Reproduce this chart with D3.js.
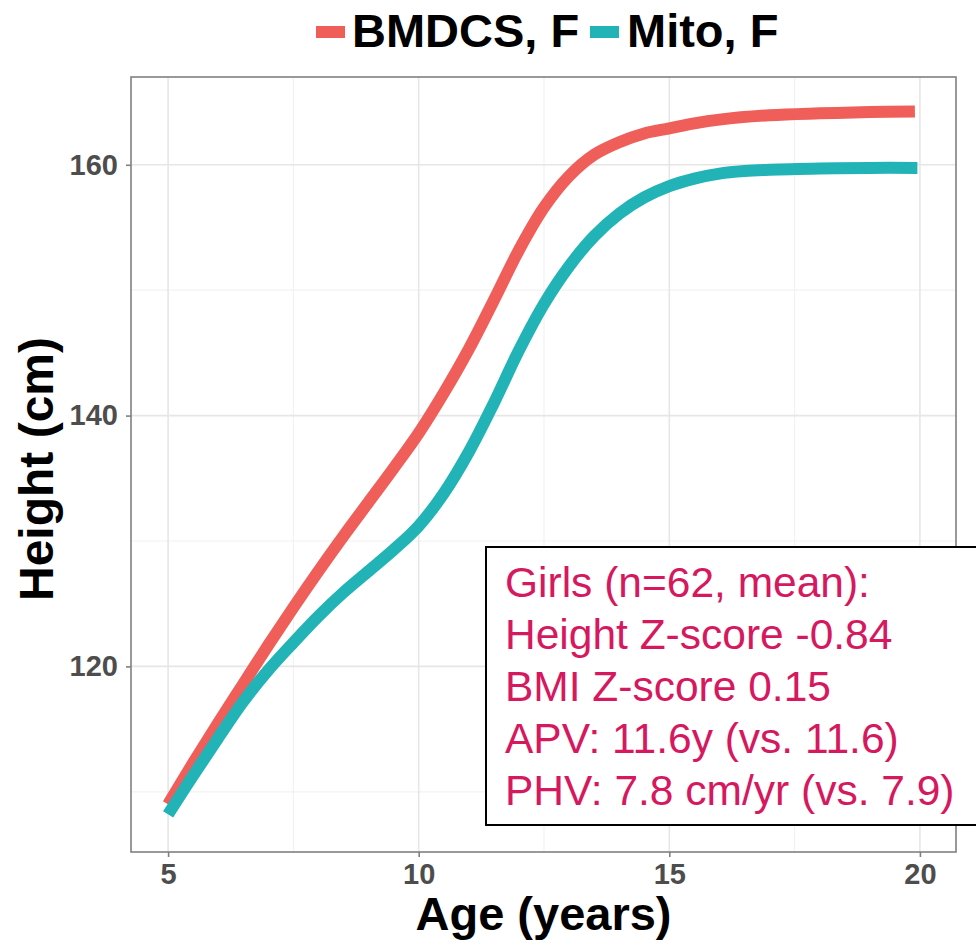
<!DOCTYPE html>
<html>
<head>
<meta charset="utf-8">
<script src="https://cdn.jsdelivr.net/npm/d3@7"></script>
<style>
    body { margin: 0; background: #fff; }
    #chart { width: 976px; height: 942px; }
    text { font-family: "Liberation Sans", Arial, sans-serif; }
</style>
</head>
<body>
<div id="chart"></div>
<script>
// ages (years) and heights (cm)
var bmdcsAge = [5, 5.5, 6, 6.5, 7, 7.5, 8, 8.5, 9, 9.5, 10, 10.5, 11, 11.5, 12, 12.5, 13, 13.5, 14, 14.5, 15, 15.5, 16, 17, 18, 19, 19.9];
var bmdcsHeight = [109.0, 112.3, 115.5, 118.6, 121.7, 124.7, 127.6, 130.4, 133.1, 135.8, 138.6, 141.8, 145.3, 149.2, 153.2, 156.6, 159.1, 160.8, 161.8, 162.5, 162.9, 163.3, 163.6, 163.95, 164.1, 164.2, 164.25];

var mitoAge = [5, 5.5, 6, 6.5, 7, 7.5, 8, 8.5, 9, 9.5, 10, 10.5, 11, 11.5, 12, 12.5, 13, 13.5, 14, 14.5, 15, 15.5, 16, 16.5, 17, 18, 19, 19.95];
var mitoHeight = [108.2, 111.3, 114.3, 117.2, 119.7, 121.9, 124.0, 125.9, 127.6, 129.3, 131.2, 133.8, 137.1, 141.0, 145.2, 148.9, 151.9, 154.3, 156.1, 157.4, 158.3, 158.9, 159.3, 159.5, 159.6, 159.7, 159.75, 159.75];

var seriesNames = ["BMDCS, F", "Mito, F"];
var seriesColors = ["#EF5E59", "#22B3B7"];

var xTicks = [5, 10, 15, 20];
var xMinor = [7.5, 12.5, 17.5];
var yTicks = [120, 140, 160];
var yMinor = [110, 130, 150];

var noteLines = [
    "Girls (n=62, mean):",
    "Height Z-score -0.84",
    "BMI Z-score 0.15",
    "APV: 11.6y (vs. 11.6)",
    "PHV: 7.8 cm/yr (vs. 7.9)"
];

var width = 976, height = 942;
var panel = { left: 131, top: 77, right: 956, bottom: 852 };

var svg = d3.select("#chart")
    .append("svg")
    .attr("width", width)
    .attr("height", height);

var x = d3.scaleLinear()
    .domain([4.26, 20.72])
    .range([panel.left, panel.right]);

var y = d3.scaleLinear()
    .domain([105.2, 167.0])
    .range([panel.bottom, panel.top]);

// grid
var grid = svg.append("g").attr("class", "grid");
grid.selectAll(".xminor").data(xMinor).enter().append("line")
    .attr("x1", function (d) { return x(d); }).attr("x2", function (d) { return x(d); })
    .attr("y1", panel.top).attr("y2", panel.bottom)
    .style("stroke", "#F2F2F2").style("stroke-width", 1.2);
grid.selectAll(".yminor").data(yMinor).enter().append("line")
    .attr("y1", function (d) { return y(d); }).attr("y2", function (d) { return y(d); })
    .attr("x1", panel.left).attr("x2", panel.right)
    .style("stroke", "#F2F2F2").style("stroke-width", 1.2);
grid.selectAll(".xmajor").data(xTicks).enter().append("line")
    .attr("x1", function (d) { return x(d); }).attr("x2", function (d) { return x(d); })
    .attr("y1", panel.top).attr("y2", panel.bottom)
    .style("stroke", "#E6E6E6").style("stroke-width", 1.6);
grid.selectAll(".ymajor").data(yTicks).enter().append("line")
    .attr("y1", function (d) { return y(d); }).attr("y2", function (d) { return y(d); })
    .attr("x1", panel.left).attr("x2", panel.right)
    .style("stroke", "#E6E6E6").style("stroke-width", 1.6);

// lines
var line = d3.line()
    .x(function (d) { return x(d[0]); })
    .y(function (d) { return y(d[1]); })
    .curve(d3.curveCatmullRom.alpha(0.5));

var series = [
    d3.zip(bmdcsAge, bmdcsHeight),
    d3.zip(mitoAge, mitoHeight)
];

svg.append("g")
    .selectAll("path")
    .data(series)
    .enter().append("path")
    .attr("d", line)
    .style("fill", "none")
    .style("stroke", function (d, i) { return seriesColors[i]; })
    .style("stroke-width", 12)
    .style("stroke-linecap", "butt")
    .style("stroke-linejoin", "round");

// panel border
svg.append("rect")
    .attr("x", panel.left).attr("y", panel.top)
    .attr("width", panel.right - panel.left).attr("height", panel.bottom - panel.top)
    .style("fill", "none").style("stroke", "#808080").style("stroke-width", 1.6);

// axes
var xAxis = svg.append("g")
    .attr("transform", "translate(0," + panel.bottom + ")")
    .call(d3.axisBottom(x).tickValues(xTicks).tickSize(5).tickPadding(6).tickFormat(d3.format("d")));
var yAxis = svg.append("g")
    .attr("transform", "translate(" + panel.left + ",0)")
    .call(d3.axisLeft(y).tickValues(yTicks).tickSize(5).tickPadding(8).tickFormat(d3.format("d")));

[xAxis, yAxis].forEach(function (a) {
    a.select(".domain").remove();
    a.selectAll(".tick line").style("stroke", "#808080").style("stroke-width", 1.6);
    a.selectAll(".tick text")
        .style("font-family", "'Liberation Sans', Arial, sans-serif")
        .style("font-weight", "bold")
        .style("font-size", "29px")
        .style("fill", "#4D4D4D");
});
xAxis.selectAll(".tick text").attr("dy", "0.72em");

// axis titles
svg.append("text")
    .attr("x", (panel.left + panel.right) / 2)
    .attr("y", 930)
    .attr("text-anchor", "middle")
    .style("font-weight", "bold")
    .style("font-size", "47px")
    .text("Age (years)");

svg.append("text")
    .attr("transform", "translate(53,469) rotate(-90)")
    .attr("text-anchor", "middle")
    .style("font-weight", "bold")
    .style("font-size", "48px")
    .text("Height (cm)");

// legend
var legendItems = [
    { key: 316, label: 352 },
    { key: 590, label: 627 }
];
var legend = svg.append("g");
legend.selectAll("line").data(seriesNames).enter().append("line")
    .attr("x1", function (d, i) { return legendItems[i].key; })
    .attr("x2", function (d, i) { return legendItems[i].key + 29; })
    .attr("y1", 32).attr("y2", 32)
    .style("stroke", function (d, i) { return seriesColors[i]; })
    .style("stroke-width", 12);
legend.selectAll("text").data(seriesNames).enter().append("text")
    .attr("x", function (d, i) { return legendItems[i].label; })
    .attr("y", 47)
    .style("font-weight", "bold")
    .style("font-size", "47px")
    .text(function (d) { return d; });

// note box
svg.append("rect")
    .attr("x", 486).attr("y", 547)
    .attr("width", 520).attr("height", 278)
    .style("fill", "#fff").style("stroke", "#000").style("stroke-width", 2);

svg.append("g")
    .selectAll("text")
    .data(noteLines)
    .enter().append("text")
    .attr("x", 505)
    .attr("y", function (d, i) { return 597 + i * 52; })
    .style("font-size", "42.5px")
    .style("fill", "#D6185F")
    .text(function (d) { return d; });
</script>
</body>
</html>
